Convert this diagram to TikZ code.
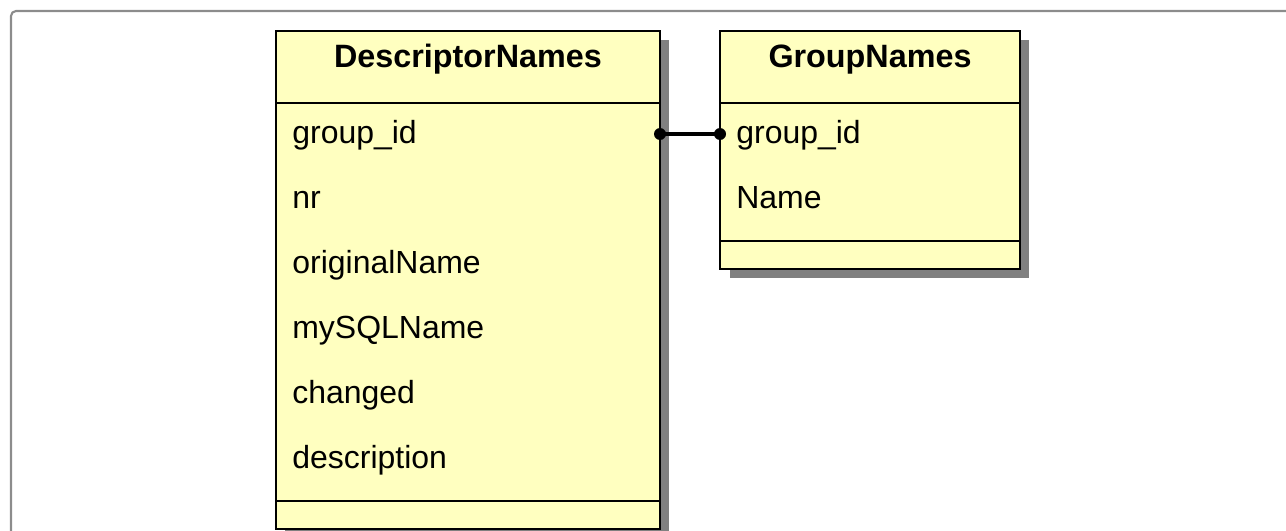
\documentclass[tikz,border=0pt]{standalone}
\usepackage{fontspec}
\setmainfont{Liberation Sans}

\definecolor{tblfill}{RGB}{255,255,192}
\definecolor{tblshadow}{RGB}{128,128,128}
\definecolor{framegray}{RGB}{140,140,140}

\tikzset{
  tblbox/.style={draw=black, line width=0.8pt, fill=tblfill},
  tblshade/.style={fill=tblshadow},
  tbltitle/.style={font=\bfseries\fontsize{18.4}{22}\selectfont, anchor=base, inner sep=0pt},
  attr/.style={font=\fontsize{18.2}{22}\selectfont, anchor=base west, inner sep=0pt},
  link/.style={draw=black, line width=2.4pt},
}

\begin{document}
\begin{tikzpicture}[x=0.02cm, y=-0.02cm]

\useasboundingbox (0,0) rectangle (1286,531);
\clip (0,0) rectangle (1286,531);
\draw[framegray, line width=1.2pt, rounded corners=0.1cm] (11,11) rectangle (1320,570);  % outer frame

% DescriptorNames table
\fill[tblshade] (285,40) rectangle (669,560);
\draw[tblbox] (276,31) rectangle (660,529);
\draw[line width=0.8pt] (276,103) -- (660,103);
\draw[line width=0.8pt] (276,501) -- (660,501);
\node[tbltitle] (dntitle) at (468,67) {DescriptorNames};
\foreach \t [count=\i] in {group\_id, nr, originalName, mySQLName, changed, description}
    \node[attr] (dn\i) at (292, 78+65*\i) {\t};

% GroupNames table
\fill[tblshade] (730,40) rectangle (1029,278);
\draw[tblbox] (720,31) rectangle (1020,269);
\draw[line width=0.8pt] (720,103) -- (1020,103);
\draw[line width=0.8pt] (720,241) -- (1020,241);
\node[tbltitle] (gntitle) at (870,67) {GroupNames};
\foreach \t [count=\i] in {group\_id, Name}
    \node[attr] (gn\i) at (736, 78+65*\i) {\t};

% link group_id -> group_id
\coordinate (dnlink) at (660,134);
\coordinate (gnlink) at (720,134);
\draw[link] (dnlink) -- (gnlink);
\fill (dnlink) circle (0.12cm);
\fill (gnlink) circle (0.12cm);

\end{tikzpicture}
\end{document}
